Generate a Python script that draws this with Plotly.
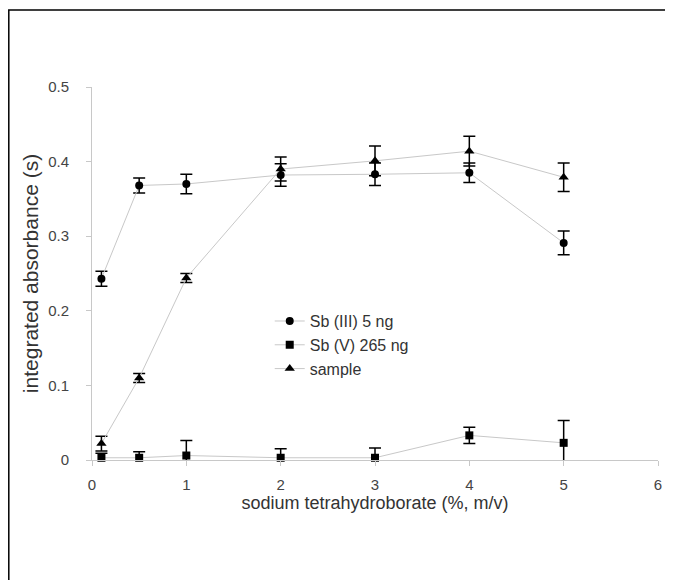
import plotly.graph_objects as go

x_vals = [0.1, 0.5, 1, 2, 3, 4, 5]
sb3_y = [0.243, 0.368, 0.370, 0.382, 0.383, 0.385, 0.291]
sb3_err = [0.010, 0.010, 0.013, 0.015, 0.015, 0.013, 0.016]
sb5_y = [0.003, 0.003, 0.006, 0.003, 0.003, 0.033, 0.023]
sb5_err_plus = [0.006, 0.008, 0.020, 0.012, 0.013, 0.011, 0.030]
sb5_err_minus = [0.006, 0.006, 0.010, 0.004, 0.004, 0.011, 0.030]
sample_y = [0.022, 0.110, 0.244, 0.390, 0.401, 0.414, 0.379]
sample_err = [0.010, 0.006, 0.006, 0.016, 0.020, 0.020, 0.019]
names = ["Sb (III) 5 ng", "Sb (V) 265 ng", "sample"]
x_ticks = [0, 1, 2, 3, 4, 5, 6]
y_ticks = [0, 0.1, 0.2, 0.3, 0.4, 0.5]
y_ticktext = ["0", "0.1", "0.2", "0.3", "0.4", "0.5"]

line_col = "#c8c8c8"
txt_col = "#333333"
fig = go.Figure()
fig.add_trace(go.Scatter(x=x_vals, y=sb3_y, name=names[0], mode="lines+markers",
    line=dict(color=line_col, width=1), marker=dict(symbol="circle", size=8, color="black"),
    error_y=dict(type="data", array=sb3_err, color="black", thickness=1.5, width=6)))
fig.add_trace(go.Scatter(x=x_vals, y=sb5_y, name=names[1], mode="lines+markers",
    line=dict(color=line_col, width=1), marker=dict(symbol="square", size=8, color="black"),
    error_y=dict(type="data", array=sb5_err_plus, arrayminus=sb5_err_minus, symmetric=False,
                 color="black", thickness=1.5, width=6)))
fig.add_trace(go.Scatter(x=x_vals, y=sample_y, name=names[2], mode="lines+markers",
    line=dict(color=line_col, width=1), marker=dict(symbol="triangle-up", size=9, color="black"),
    error_y=dict(type="data", array=sample_err, color="black", thickness=1.5, width=6)))

fig.update_layout(
    width=665, height=572,
    margin=dict(l=84, r=15, t=79, b=120),
    paper_bgcolor="white", plot_bgcolor="white",
    font=dict(family="Liberation Sans, Arial, sans-serif", size=15, color=txt_col),
    showlegend=True,
    legend=dict(x=0.314, y=0.418, xanchor="left", yanchor="top", bgcolor="rgba(0,0,0,0)",
                font=dict(size=16, color=txt_col), tracegroupgap=0, itemwidth=30),
    xaxis=dict(range=[0, 6], tickvals=x_ticks, showgrid=False, zeroline=False,
               showline=True, linecolor=line_col, linewidth=1, ticks="outside", ticklen=5,
               tickcolor=line_col, tickfont=dict(size=15, color="#444444"), ticklabelstandoff=6,
               title=dict(text="sodium tetrahydroborate (%, m/v)", font=dict(size=18, color=txt_col), standoff=4)),
    yaxis=dict(range=[0, 0.5], tickvals=y_ticks, ticktext=y_ticktext,
               showgrid=False, zeroline=False,
               showline=True, linecolor=line_col, linewidth=1, ticks="outside", ticklen=5,
               tickcolor=line_col, tickfont=dict(size=15, color="#444444"), ticklabelstandoff=14,
               title=dict(text="integrated absorbance (s)", font=dict(size=21, color=txt_col), standoff=3)),
    shapes=[dict(type="path", xref="paper", yref="paper",
                 path="M -0.147,-0.45 L -0.147,1.2064 L 1.25,1.2064",
                 line=dict(color="black", width=1.5), layer="below")],
)
fig.update_traces(cliponaxis=False)
fig.write_html("out.html")
